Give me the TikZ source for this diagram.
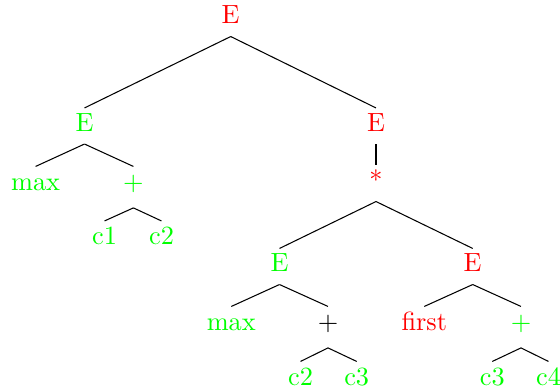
\documentclass[tikz,border=0pt]{standalone}
\begin{document}
\begin{tikzpicture}[x=0.38pt,y=-0.38pt,
  tn/.style={inner sep=0pt, anchor=base, text height=8.75pt, text depth=4.56pt},
  tnd/.style={tn, text depth=6.6pt},
  rd/.style={text=red},
  gr/.style={text=green},
  bk/.style={text=black},
  edge/.style={draw=black, line width=0.4pt}]
\useasboundingbox (0,0) rectangle (560,389);
% level 0
\node[tn,rd] (root) at (230.7,24) {E};
% level 1
\node[tn,gr] (El) at (84.5,131.5) {E};
\node[tn,rd] (Er) at (376,131.5) {E};
% level 2
\node[tn,gr] (max1) at (35.6,190) {max};
\node[tnd,gr] (p1) at (133.4,190) {+};
\node[tn,rd] (star) at (376,189) {*};
% level 3
\node[tn,gr] (c1) at (104.5,244.5) {c1};
\node[tn,gr] (c2a) at (161.5,244.5) {c2};
\node[tn,gr] (Em) at (279.5,272) {E};
\node[tn,rd] (Er2) at (472.7,272) {E};
% level 4
\node[tn,gr] (max2) at (231.3,330) {max};
\node[tnd,bk] (p2) at (328,330) {+};
\node[tn,rd] (first) at (424.3,330) {first};
\node[tnd,gr] (p3) at (521,330) {+};
% level 5
\node[tn,gr] (c2b) at (300.5,385) {c2};
\node[tn,gr] (c3a) at (356.7,385) {c3};
\node[tn,gr] (c3b) at (492.3,385) {c3};
\node[tn,gr] (c4) at (548.5,385) {c4};
% edges
\draw[edge] (root.south) -- (El.north);
\draw[edge] (root.south) -- (Er.north);
\draw[edge] (El.south) -- (max1.north);
\draw[edge] (El.south) -- (p1.north);
\draw[edge] (p1.south) -- (c1.north);
\draw[edge] (p1.south) -- (c2a.north);
\draw[edge] (Er.south) -- (star.north);
\draw[edge] (star.south) -- (Em.north);
\draw[edge] (star.south) -- (Er2.north);
\draw[edge] (Em.south) -- (max2.north);
\draw[edge] (Em.south) -- (p2.north);
\draw[edge] (p2.south) -- (c2b.north);
\draw[edge] (p2.south) -- (c3a.north);
\draw[edge] (Er2.south) -- (first.north);
\draw[edge] (Er2.south) -- (p3.north);
\draw[edge] (p3.south) -- (c3b.north);
\draw[edge] (p3.south) -- (c4.north);
\end{tikzpicture}
\end{document}
